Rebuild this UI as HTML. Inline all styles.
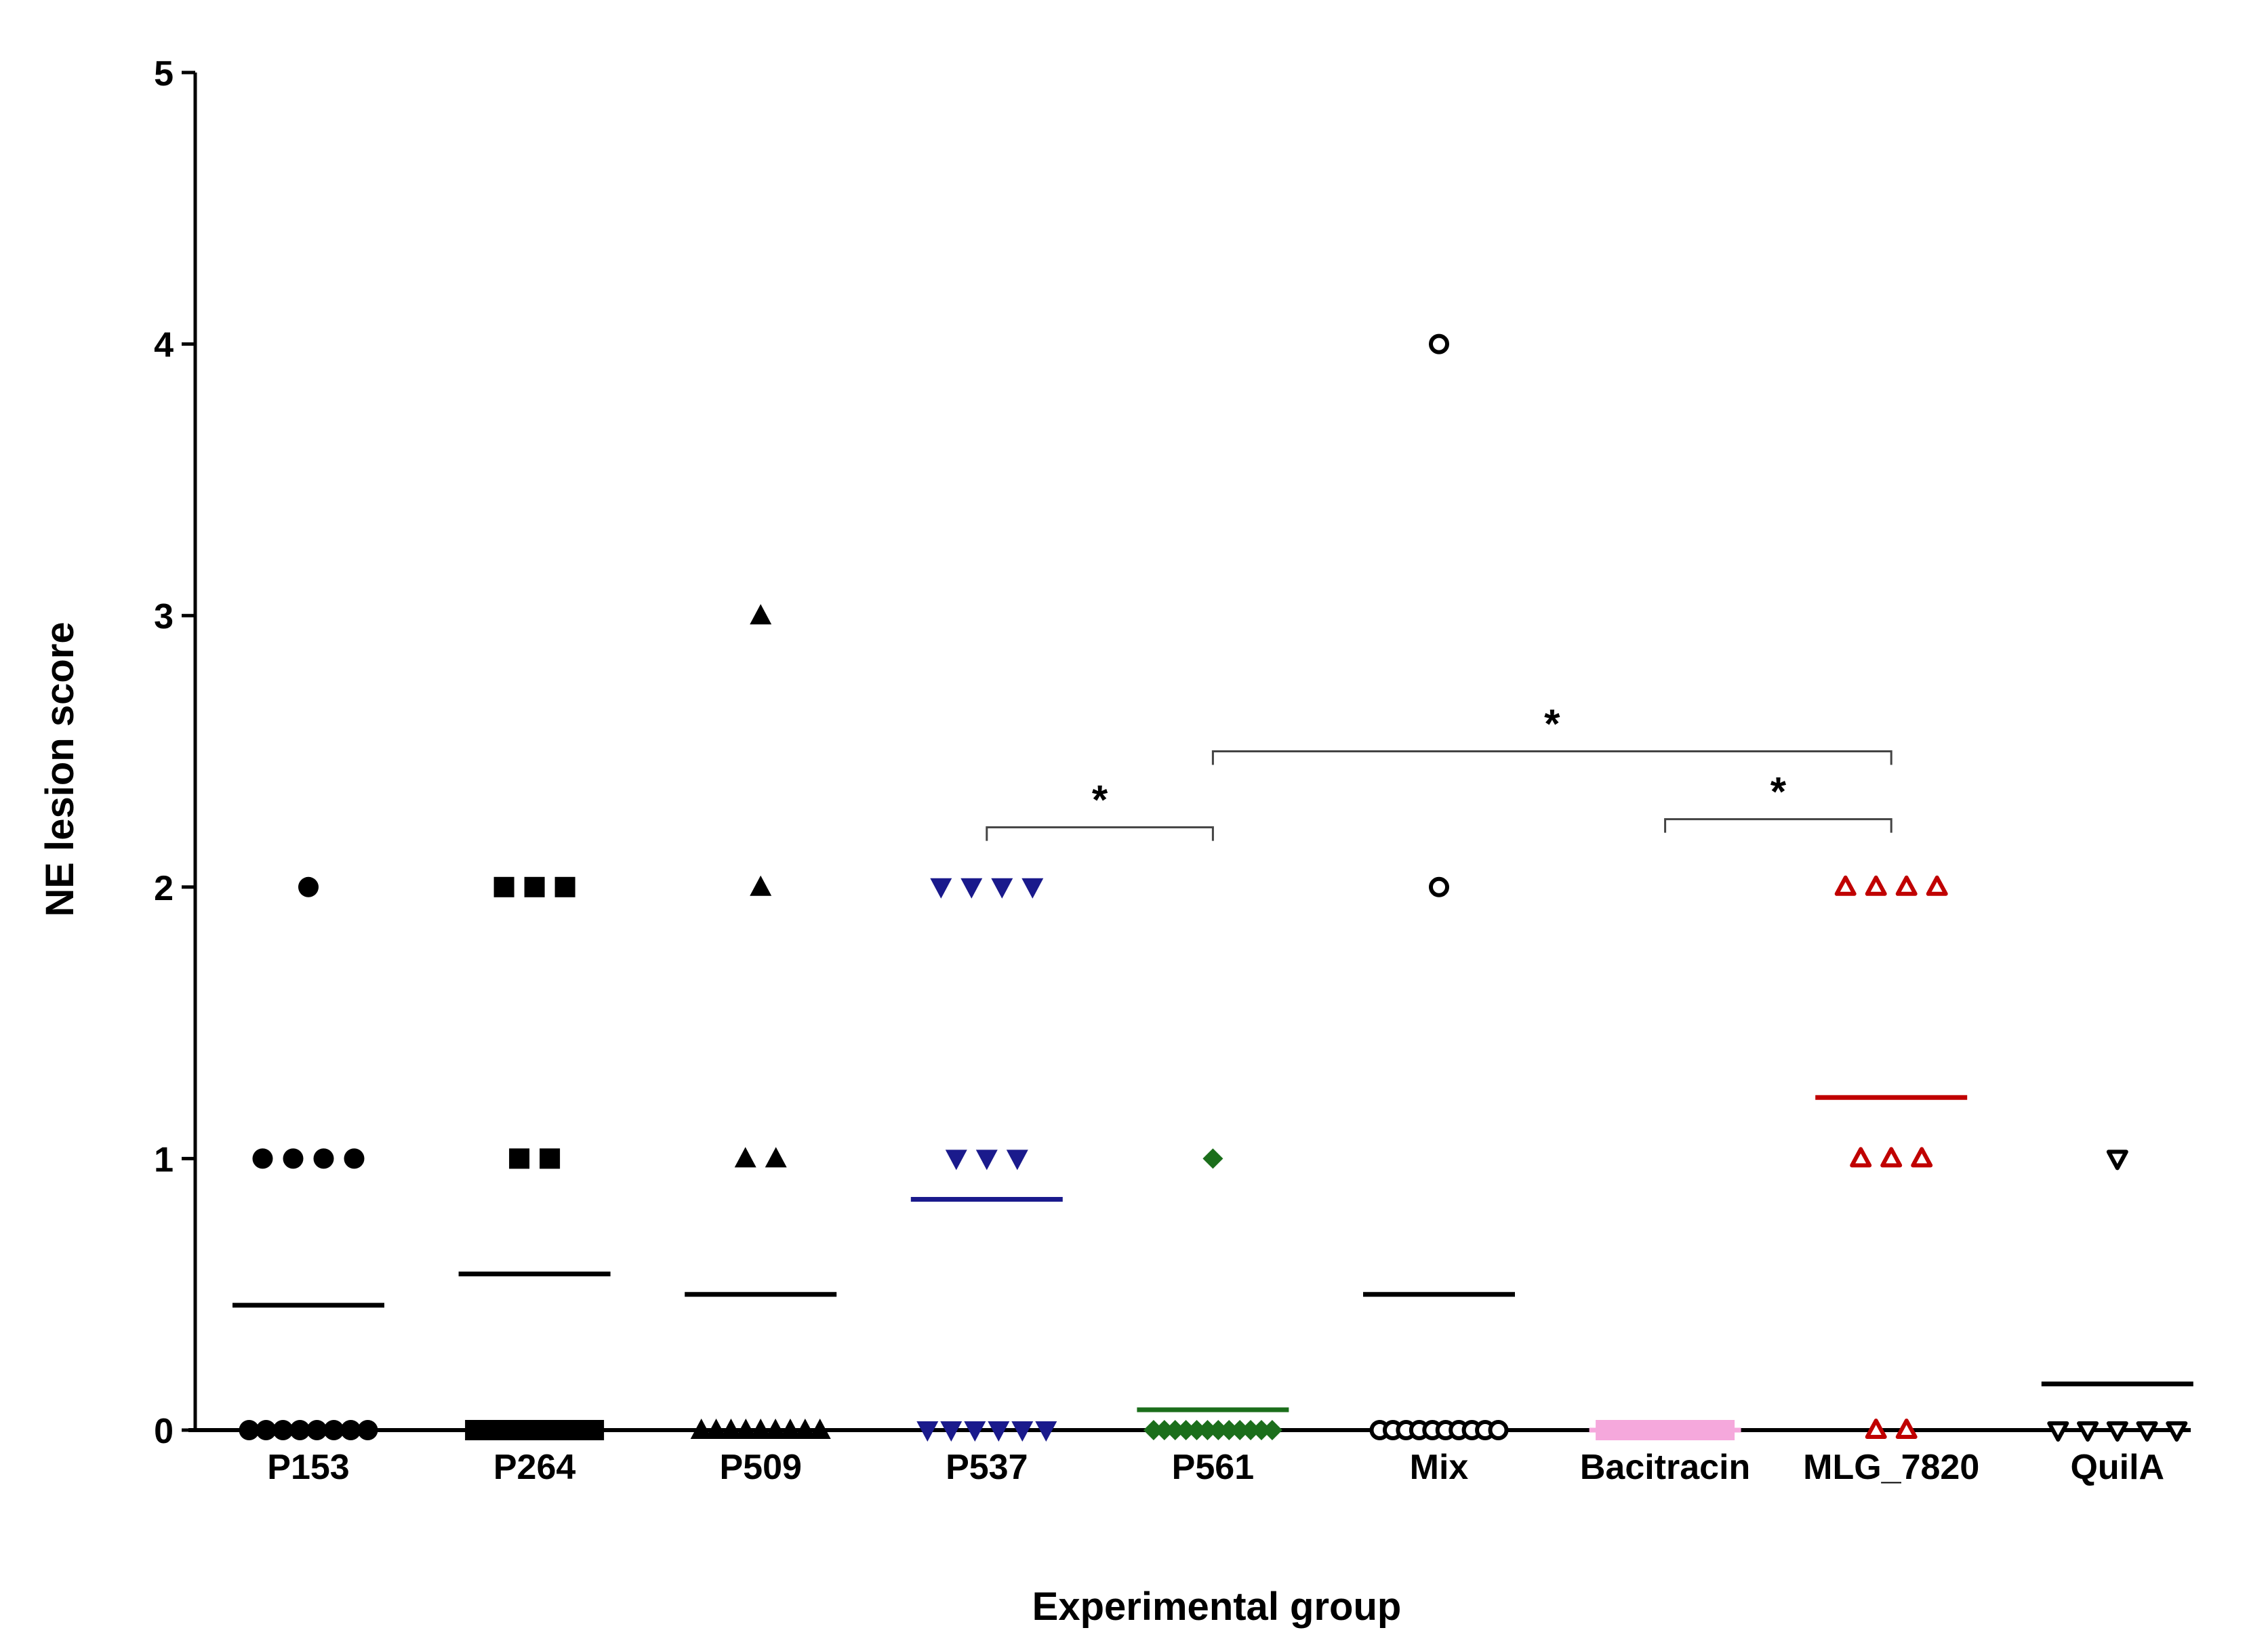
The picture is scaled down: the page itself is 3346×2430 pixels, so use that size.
<!DOCTYPE html>
<html><head><meta charset="utf-8"><style>
html,body{margin:0;padding:0;background:#fff;}
svg{display:block;font-family:"Liberation Sans",Arial,sans-serif;font-weight:bold;}
</style></head><body>
<svg id="chart" width="3346" height="2430" viewBox="0 0 3346 2430" xmlns="http://www.w3.org/2000/svg"></svg>
<script>
const categories = ["P153","P264","P509","P537","P561","Mix","Bacitracin","MLG_7820","QuilA"];
const countsAt0 = [8,9,9,6,12,10,12,2,5];
const countsAt1 = [4,2,2,3,1,0,0,3,1];
const countsAt2 = [1,3,1,4,0,1,0,4,0];
const countsAt3 = [0,0,1,0,0,0,0,0,0];
const countsAt4 = [0,0,0,0,0,1,0,0,0];
const groupMeans = [0.46,0.575,0.5,0.85,0.075,0.5,0,1.225,0.17];
const yTicks = [0,1,2,3,4,5];
const brackets = [[3,4,2.22],[4,7,2.5],[6,7,2.25]];

const svg = document.getElementById('chart');
const NS = 'http://www.w3.org/2000/svg';
const X0 = 288, XEND = 3232, Y0 = 2110, PER = 400.6;
const xC = i => 455 + i * 333.6;
const yV = v => Y0 - v * PER;
const styles = [
 {shape:'circle',fill:'#000',stroke:'none'},
 {shape:'square',fill:'#000',stroke:'none'},
 {shape:'tri',fill:'#000',stroke:'none'},
 {shape:'tridown',fill:'#1a1a8c',stroke:'none'},
 {shape:'diamond',fill:'#1b6e1b',stroke:'none'},
 {shape:'circle',fill:'#fff',stroke:'#000'},
 {shape:'square',fill:'#f5a8dc',stroke:'#f5a8dc'},
 {shape:'tri',fill:'#fff',stroke:'#c00000'},
 {shape:'tridown',fill:'#fff',stroke:'#000'}
];
const meanColors = ['#000','#000','#000','#1a1a8c','#1b6e1b','#000','#f5a8dc','#c00000','#000'];
function mk(tag, attrs, parent){const e=document.createElementNS(NS,tag);for(const k in attrs)e.setAttribute(k,attrs[k]);(parent||svg).appendChild(e);return e;}

const yAxis = mk('line',{x1:X0,y1:yV(5),x2:X0,y2:Y0,stroke:'#000','stroke-width':5});


yTicks.forEach(t=>{
  const tk = mk('line',{x1:X0-20,y1:yV(t),x2:X0,y2:yV(t),stroke:'#000','stroke-width':5});
  
  
  const tl = mk('text',{x:X0-32,y:yV(t)+19,'text-anchor':'end','font-size':52});
  tl.textContent = t;
  
  
});
const xAxis = mk('line',{x1:X0-10,y1:Y0,x2:XEND,y2:Y0,stroke:'#000','stroke-width':6});



function marker(st, cx, cy, g){
  const r = 15, sw = 6;
  const fill = st.fill, stroke = st.stroke==='none'?'none':st.stroke;
  const rr = stroke==='none'? r : r-3;
  let e;
  if(st.shape==='circle') e = mk('circle',{cx,cy,r:rr,fill,stroke,'stroke-width':sw},g);
  else if(st.shape==='square') e = mk('rect',{x:cx-rr,y:cy-rr,width:2*rr,height:2*rr,fill,stroke,'stroke-width':sw},g);
  else if(st.shape==='tri') e = mk('polygon',{points:`${cx},${cy-rr-2} ${cx-rr-1},${cy+rr-2} ${cx+rr+1},${cy+rr-2}`,fill,stroke,'stroke-width':sw,'stroke-linejoin':'round'},g);
  else if(st.shape==='tridown') e = mk('polygon',{points:`${cx},${cy+rr+2} ${cx-rr-1},${cy-rr+2} ${cx+rr+1},${cy-rr+2}`,fill,stroke,'stroke-width':sw,'stroke-linejoin':'round'},g);
  else e = mk('polygon',{points:`${cx},${cy-r} ${cx+r},${cy} ${cx},${cy+r} ${cx-r},${cy}`,fill,stroke},g);
  
  
}

const levels = [countsAt0,countsAt1,countsAt2,countsAt3,countsAt4];
categories.forEach((c,i)=>{
  const g = mk('g',{});
  
  
  const cx = xC(i);
  const ml = mk('line',{x1:cx-112,y1:yV(groupMeans[i]),x2:cx+112,y2:yV(groupMeans[i]),stroke:meanColors[i],'stroke-width':7},g);
  
  
  levels.forEach((arr,v)=>{
    const n = arr[i]; if(!n) return;
    let sp = 45; if((n-1)*sp > 175) sp = 175/(n-1);
    for(let k=0;k<n;k++) marker(styles[i], cx + (k-(n-1)/2)*sp, yV(v), g);
  });
  const lab = mk('text',{x:cx,y:Y0+72,'text-anchor':'middle','font-size':52});
  lab.textContent = c;
  
  
});

brackets.forEach(b=>{
  const xa = xC(b[0]), xb = xC(b[1]), y = yV(b[2]);
  const p = mk('path',{d:`M${xa},${y+20} V${y} H${xb} V${y+20}`,fill:'none',stroke:'#444','stroke-width':3});
  
  
  const s = mk('text',{x:(xa+xb)/2,y:y-20,'text-anchor':'middle','font-size':60});
  s.textContent='*';
  
  
});

const xt = mk('text',{x:1795,y:2390,'text-anchor':'middle','font-size':58});
xt.textContent='Experimental group';


const yt = mk('text',{x:0,y:0,'text-anchor':'middle','font-size':58,transform:'translate(108,1135) rotate(-90)'});
yt.textContent='NE lesion score';


</script>
</body></html>
